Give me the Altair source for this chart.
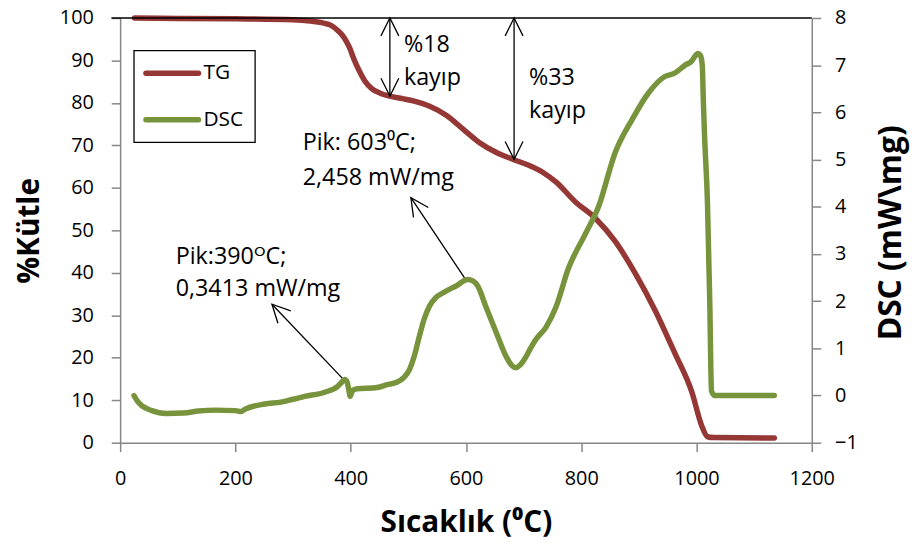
import altair as alt
import pandas as pd

# ---- data ----
tg_temp = [25, 100, 200, 300, 330, 350, 365, 378, 389, 398, 406, 415, 424, 437, 451, 468, 490, 510,
           537, 567, 596, 623, 652, 682, 709, 735, 756, 790, 825, 859, 894, 928, 962, 992, 1009,
           1019, 1030, 1135]
tg_mass = [100, 99.9, 99.8, 99.6, 99.3, 98.9, 98.3, 97, 95.3, 93, 90.2, 87.5, 85.3, 83.3, 82.3, 81.6,
           81, 80.4, 79.2, 77, 73.7, 70.7, 68.4, 66.7, 65.3, 63.5, 61.4, 56.7, 52.8, 47.4, 39.8, 31.2,
           21.2, 11.9, 4, 1.4, 1.2, 1.1]

dsc_temp = [24, 30, 38, 55, 79, 110, 136, 165, 200, 210, 217, 251, 279, 300, 320, 355, 377, 386, 390,
            394, 397, 399, 403, 410, 446, 463, 480, 492, 502, 510, 518, 527, 537, 548, 561, 584, 603,
            612, 620, 635, 653, 670, 680, 687, 695, 704, 712, 721, 739, 756, 778, 807, 830, 859, 888,
            916, 945, 962, 970, 980, 991, 998, 1002, 1007, 1010, 1012, 1014, 1019, 1023, 1026, 1031,
            1135]
dsc_val = [0.0, -0.12, -0.22, -0.32, -0.38, -0.37, -0.33, -0.31, -0.32, -0.34, -0.29, -0.18, -0.14,
           -0.08, -0.02, 0.07, 0.19, 0.3, 0.34, 0.28, 0.1, -0.02, 0.1, 0.14, 0.17, 0.23, 0.28, 0.38,
           0.55, 0.82, 1.2, 1.6, 1.9, 2.08, 2.18, 2.33, 2.458, 2.43, 2.33, 1.87, 1.32, 0.82, 0.63, 0.59,
           0.66, 0.82, 1.0, 1.18, 1.45, 1.87, 2.7, 3.42, 4.0, 5.15, 5.84, 6.4, 6.76, 6.83, 6.9, 7.0,
           7.08, 7.2, 7.25, 7.2, 7.0, 6.2, 5.5, 4.1, 2.0, 0.1, 0.0, 0.0]

x_ticks = [0, 200, 400, 600, 800, 1000, 1200]
left_ticks = [0, 10, 20, 30, 40, 50, 60, 70, 80, 90, 100]
right_ticks = [-1, 0, 1, 2, 3, 4, 5, 6, 7, 8]

series_names = ["TG", "DSC"]
series_colors = ["#953735", "#77933C"]

# annotation texts (temperature, %Kütle, text)
note_T = [492.4, 492.4, 709.4, 709.4, 316.8, 316.8, 96.4, 96.4]
note_v = [92.1, 84.2, 84.2, 76.5, 68.8, 60.7, 42.0, 34.5]
note_txt = ["%18", "kayıp", "%33", "kayıp", "Pik: 603\u2070C;", "2,458 mW/mg",
            "Pik:390\u1d3cC;", "0,3413 mW/mg"]

# arrows: shafts and heads
shaft_T = [468, 683.5, 597.6, 387.4]
shaft_v = [100, 100, 38.8, 14.9]
shaft_T2 = [468, 683.5, 504.5, 263.4]
shaft_v2 = [81.6, 66.7, 57.7, 32.6]
head_T = [468, 468, 683.5, 683.5, 504.5, 263.4]
head_v = [100, 81.6, 100, 66.7, 57.7, 32.6]
head_ang = [0, 180, 0, 180, 326, 316]

FONT = "Open Sans, DejaVu Sans, sans-serif"
AX_GRAY = "#868686"

tg_df = pd.DataFrame({"T": tg_temp, "v": tg_mass})
dsc_df = pd.DataFrame({"T": dsc_temp, "v": dsc_val})

x_scale = alt.Scale(domain=[0, 1200], nice=False, zero=False)
x_axis = alt.Axis(values=x_ticks, title="Sıcaklık (\u2070C)", labelFlush=False, format="d",
                  titleX=348.5, titleY=80, titleBaseline="middle", titleAlign="center",
                  labelPadding=17)
yl_scale = alt.Scale(domain=[0, 100], nice=False, zero=False)
yl_axis = alt.Axis(values=left_ticks, title="%Kütle", orient="left", labelFlush=False, format="d",
                   titleX=-91, titleY=214, titleAngle=270, titleBaseline="middle",
                   titleAlign="center", labelPadding=18)
yr_scale = alt.Scale(domain=[-1, 8], nice=False, zero=False)
yr_axis = alt.Axis(values=right_ticks, title="DSC (mW\\mg)", orient="right", labelFlush=False,
                   format="d", titleX=79, titleY=216, titleAngle=270, titleBaseline="middle",
                   titleAlign="center", labelPadding=14, titleFontSize=32)

X = lambda f="T": alt.X(f"{f}:Q", scale=x_scale, axis=x_axis)
YL = lambda f="v": alt.Y(f"{f}:Q", scale=yl_scale, axis=yl_axis)

tg_line = alt.Chart(tg_df).mark_line(
    color=series_colors[0], strokeWidth=5.5, interpolate="monotone", strokeCap="round"
).encode(x=X(), y=YL())

top_rule = alt.Chart(pd.DataFrame({"T": [-15], "T2": [1200], "v": [100]})).mark_rule(
    color="black", strokeWidth=1.5
).encode(x=X(), x2="T2:Q", y=YL())

shafts = alt.Chart(pd.DataFrame({"T": shaft_T, "v": shaft_v, "T2": shaft_T2, "v2": shaft_v2})).mark_rule(
    color="black", strokeWidth=1.3
).encode(x=X(), y=YL(), x2="T2:Q", y2="v2:Q")

heads = alt.Chart(pd.DataFrame({"T": head_T, "v": head_v, "ang": head_ang})).mark_point(
    shape="M-1,2L0,0L1,2", filled=False, size=324, stroke="black", strokeWidth=1.3, opacity=1
).encode(x=X(), y=YL(), angle=alt.Angle("ang:Q", scale=None))

notes = alt.Chart(pd.DataFrame({"T": note_T, "v": note_v, "label": note_txt})).mark_text(
    align="left", baseline="alphabetic", font=FONT, fontSize=23.5, color="black"
).encode(x=X(), y=YL(), text="label:N")

# legend built from scales
leg_box = alt.Chart(pd.DataFrame({"T": [24.1], "T2": [234.2], "v": [92.33], "v2": [70.7]})).mark_rect(
    fill="white", stroke="black", strokeWidth=1.3
).encode(x=X(), x2="T2:Q", y=YL(), y2="v2:Q")
leg_lines = alt.Chart(pd.DataFrame({"T": [44.8, 44.8], "T2": [136, 136], "v": [86.98, 76.05],
                                    "c": series_colors})).mark_rule(
    strokeWidth=5.5, strokeCap="round"
).encode(x=X(), x2="T2:Q", y=YL(), color=alt.Color("c:N", scale=None))
leg_text = alt.Chart(pd.DataFrame({"T": [144.6, 144.6], "v": [86.98, 76.05], "label": series_names})).mark_text(
    align="left", baseline="middle", font=FONT, fontSize=21, color="black"
).encode(x=X(), y=YL(), text="label:N")

left = alt.layer(tg_line, top_rule, shafts, heads, notes, leg_box, leg_lines, leg_text)

dsc_line = alt.Chart(dsc_df).mark_line(
    color=series_colors[1], strokeWidth=5.5, interpolate="monotone", strokeCap="round"
).encode(x=X(), y=alt.Y("v:Q", scale=yr_scale, axis=yr_axis))

chart = alt.layer(left, dsc_line).resolve_scale(y="independent").properties(
    width=697, height=428,
    autosize=alt.AutoSizeParams(type="none"),
    padding={"left": 113, "top": 8, "right": 100, "bottom": 96},
).configure_view(stroke=None).configure_axis(
    grid=False, domainColor=AX_GRAY, tickColor=AX_GRAY, domainWidth=1.5, tickWidth=1.5,
    tickSize=9, labelFont=FONT, labelFontSize=20, labelColor="black",
    titleFont=FONT, titleFontSize=30, titleFontWeight="bold", titleColor="black"
)

chart.save("out.html", embed_options={"renderer": "svg", "actions": False})
